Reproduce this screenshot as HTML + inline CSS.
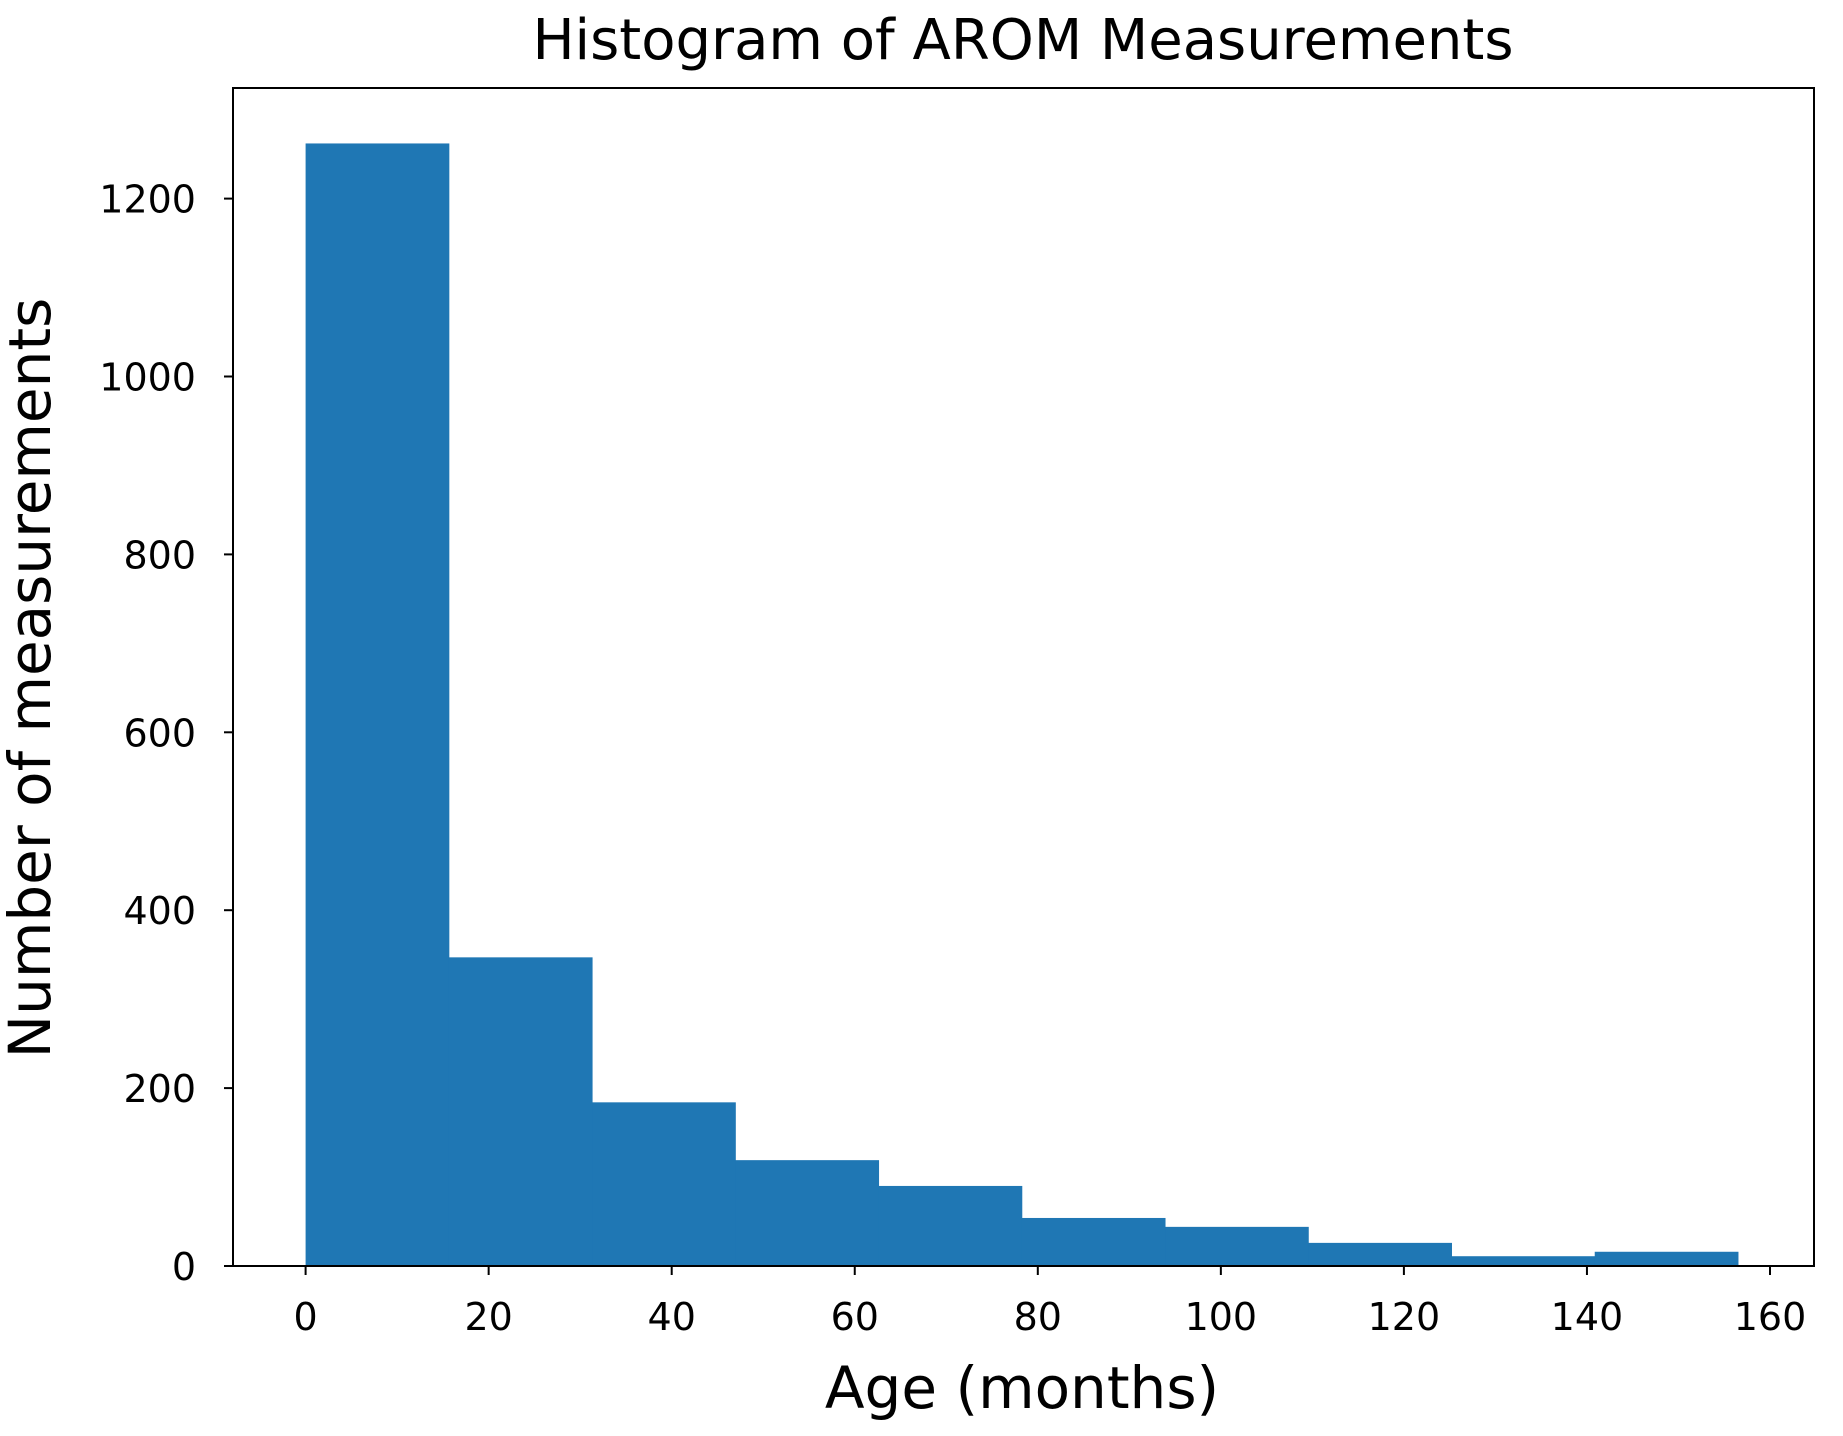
<!DOCTYPE html>
<html><head><meta charset="utf-8"><style>
html,body{margin:0;padding:0;background:#fff;}
svg{display:block;font-family:"DejaVu Sans","Liberation Sans",sans-serif;}
</style></head><body>
<svg id="chart" width="1843" height="1436" viewBox="0 0 1843 1436">
<rect x="0" y="0" width="1843" height="1436" fill="#fff"/>
<text x="1023" y="59" font-size="56" text-anchor="middle" fill="#000">Histogram of AROM Measurements</text>
<g id="bars"></g>
<g id="xticks"></g>
<g id="yticks"></g>
<rect x="233" y="88" width="1581" height="1178" fill="none" stroke="#000" stroke-width="2"/>
<text x="1022" y="1408" font-size="58" text-anchor="middle" fill="#000">Age (months)</text>
<text transform="translate(50,678) rotate(-90)" font-size="58" text-anchor="middle" fill="#000">Number of measurements</text>
</svg>
<script>
const binEdges = [0, 15.65, 31.3, 46.95, 62.6, 78.25, 93.9, 109.55, 125.2, 140.85, 156.5];
const counts = [1262, 347, 184, 119, 90, 54, 44, 26, 11, 16];
const xTicks = [0, 20, 40, 60, 80, 100, 120, 140, 160];
const yTicks = [0, 200, 400, 600, 800, 1000, 1200];

const NS = "http://www.w3.org/2000/svg";
const X0 = 305.6, XS = (1770 - 305.6) / 160;
const Y0 = 1266, YS = (1266 - 198.6) / 1200;
function xs(v){ return X0 + v * XS; }
function ys(v){ return Y0 - v * YS; }
function mk(tag, attrs){ const e = document.createElementNS(NS, tag); for (const k in attrs) e.setAttribute(k, attrs[k]); return e; }

const bars = document.getElementById('bars');
counts.forEach((c, i) => {
  const x1 = xs(binEdges[i]), x2 = xs(binEdges[i+1]);
  const r = mk('rect', {x: x1, y: ys(c), width: x2 - x1 + 0.5, height: ys(0) - ys(c), fill: '#1f77b4'});
  
  
  bars.appendChild(r);
});

const xg = document.getElementById('xticks');
xTicks.forEach(t => {
  const l = mk('line', {x1: xs(t), x2: xs(t), y1: 1266, y2: 1275, stroke: '#000', 'stroke-width': 2});
  
  
  xg.appendChild(l);
  const tx = mk('text', {x: xs(t), y: 1330, 'font-size': 38, 'text-anchor': 'middle', fill: '#000'});
  tx.textContent = t;
  
  
  xg.appendChild(tx);
});

const yg = document.getElementById('yticks');
yTicks.forEach(t => {
  const l = mk('line', {x1: 224, x2: 233, y1: ys(t), y2: ys(t), stroke: '#000', 'stroke-width': 2});
  
  
  yg.appendChild(l);
  const tx = mk('text', {x: 196, y: ys(t) + 14, 'font-size': 38, 'text-anchor': 'end', fill: '#000'});
  tx.textContent = t;
  
  
  yg.appendChild(tx);
});
</script>
</body></html>
